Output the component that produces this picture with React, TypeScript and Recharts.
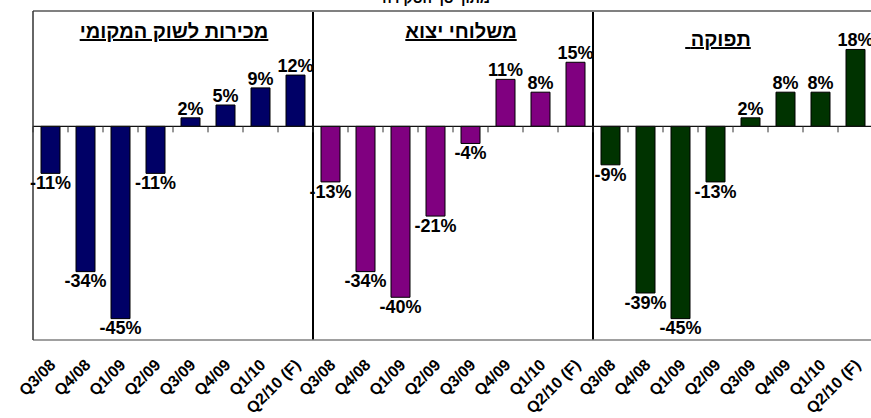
import React from 'react'
import {
  BarChart, Bar, Cell, XAxis, YAxis, CartesianGrid, ReferenceLine, LabelList,
} from 'recharts'

const quarters = ['Q3/08', 'Q4/08', 'Q1/09', 'Q2/09', 'Q3/09', 'Q4/09', 'Q1/10', 'Q2/10 (F)']
const localSales = [-11, -34, -45, -11, 2, 5, 9, 12]
const exports = [-13, -34, -40, -21, -4, 11, 8, 15]
const output = [-9, -39, -45, -13, 2, 8, 8, 18]
const panelTitles = ['מכירות לשוק המקומי', 'משלוחי יצוא', ' תפוקה']
const panelColors = ['#000066', '#800080', '#003300']
const chartTitle = 'מתוך סך הסקירה'

const panels = [localSales, exports, output]
const data = panels.flatMap((vals, p) =>
  vals.map((v, i) => ({ id: `${p}-${i}`, label: quarters[i], panel: p, value: v })),
)
const totalCats = data.length

const font = '"Liberation Sans", Arial, "DejaVu Sans", sans-serif'

function QuarterTick(props: any) {
  const { x, y, payload } = props
  const row = data.find((d) => d.id === payload.value)
  return (
    <g transform={`translate(${x + 2},${y + 14}) rotate(-45)`}>
      <text
        x={0}
        y={0}
        dy="0.35em"
        textAnchor="end"
        fontFamily={font}
        fontWeight="bold"
        fontSize={16}
        fill="#000"
      >
        {row ? row.label : ''}
      </text>
    </g>
  )
}

function ZeroLine(props: any) {
  const { x1, y1, x2, y2 } = props
  const step = (x2 - x1) / totalCats
  const ticks = Array.from({ length: totalCats + 1 }, (_, i) => x1 + i * step)
  return (
    <g>
      <line x1={x1} y1={y1} x2={x2} y2={y2} stroke="#111" strokeWidth={1.2} />
      {ticks.map((tx, i) => (
        <line key={i} x1={tx} y1={y1} x2={tx} y2={y1 + 6} stroke="#333" strokeWidth={1} />
      ))}
    </g>
  )
}

const titlePos = [
  { left: 174, top: 21 },
  { left: 461, top: 21 },
  { left: 718, top: 29 },
]

export default function App() {
  return (
    <div style={{ position: 'absolute', left: 0, top: 0, width: 871, height: 418, overflow: 'hidden', background: '#fff' }}>
      <BarChart
        width={880}
        height={418}
        data={data}
        margin={{ top: 11, right: 7, bottom: 0, left: 0 }}
        barSize={19}
      >
        <CartesianGrid
          horizontal={false}
          stroke="#000"
          strokeWidth={2}
          verticalCoordinatesGenerator={({ offset }: any) => [
            offset.left + (offset.width * 8) / totalCats,
            offset.left + (offset.width * 16) / totalCats,
          ]}
        />
        <XAxis
          dataKey="id"
          height={78}
          interval={0}
          tickLine={false}
          axisLine={{ stroke: '#808080', strokeWidth: 1.5 }}
          tick={<QuarterTick />}
        />
        <YAxis
          width={33}
          domain={[-50, 27]}
          allowDataOverflow
          tick={false}
          tickLine={false}
          axisLine={{ stroke: '#333', strokeWidth: 1.5 }}
        />
        <ReferenceLine y={27} stroke="#808080" strokeWidth={2} />
        <Bar dataKey="value" stroke="#000" strokeWidth={1} isAnimationActive={false}>
          {data.map((d) => (
            <Cell key={d.id} fill={panelColors[d.panel]} />
          ))}
          <LabelList
            dataKey="value"
            position="top"
            offset={3}
            formatter={(v: any) => `${v}%`}
            style={{ fontFamily: font, fontWeight: 'bold', fontSize: 18, fill: '#000' }}
          />
        </Bar>
        <ReferenceLine y={0} shape={(p: any) => <ZeroLine {...p} />} />
      </BarChart>
      <div
        style={{
          position: 'absolute', left: 436, top: -9, transform: 'translateX(-50%)',
          fontFamily: font, fontWeight: 'bold', fontSize: 14, lineHeight: '14px', whiteSpace: 'pre',
        }}
      >
        {chartTitle}
      </div>
      {panelTitles.map((t, i) => (
        <div
          key={i}
          style={{
            position: 'absolute', left: titlePos[i].left, top: titlePos[i].top, transform: 'translateX(-50%)',
            fontFamily: font, fontWeight: 'bold', fontSize: 20, lineHeight: '20px',
            textDecoration: 'underline', whiteSpace: 'pre', direction: 'ltr',
          }}
        >
          {t}
        </div>
      ))}
    </div>
  )
}
